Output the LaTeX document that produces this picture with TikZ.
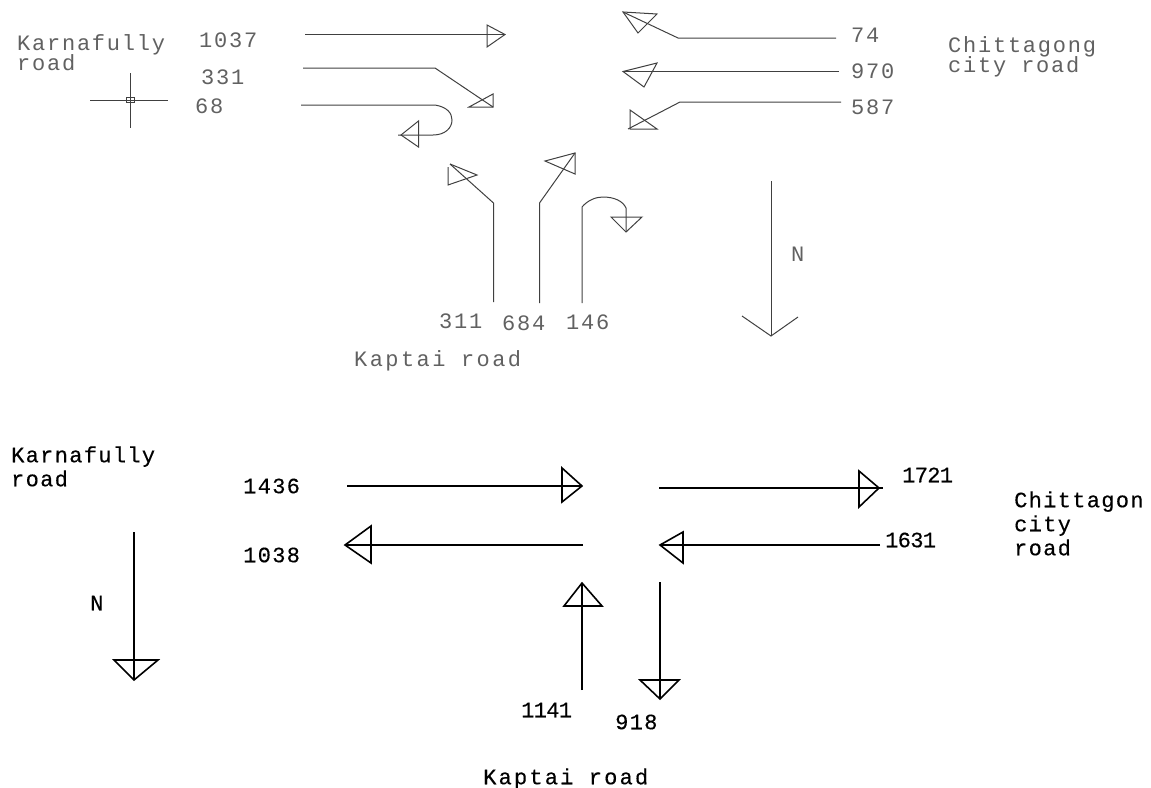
\documentclass[tikz,border=0pt]{standalone}
\usepackage{fontspec}
\newfontfamily\cadfont[LetterSpace=8]{Liberation Mono}
\newfontfamily\cadwide[LetterSpace=11]{Liberation Mono}
\newfontfamily\cadbold[LetterSpace=6,FakeBold=0.3]{Liberation Mono}
\newfontfamily\cadboldwide[LetterSpace=10,FakeBold=0.3]{Liberation Mono}
\newfontfamily\cadtight[LetterSpace=-3,FakeBold=0.3]{Liberation Mono}
\tikzset{
  thinlabel/.style={anchor=west,inner sep=0pt,text height=14.5pt,text depth=0pt,text=black!62,font=\cadfont\fontsize{22}{22}\selectfont},
  darklabel/.style={anchor=west,inner sep=0pt,text height=14.5pt,text depth=0pt,text=black,font=\cadbold\fontsize{22}{22}\selectfont},
  tightlabel/.style={anchor=west,inner sep=0pt,text height=14.5pt,text depth=0pt,text=black,font=\cadtight\fontsize{22}{22}\selectfont},
  thinline/.style={draw=black!75,line width=1pt},
  thickline/.style={draw=black,line width=1.6pt},
}
\begin{document}
\begin{tikzpicture}[x=1pt,y=-1pt]
\useasboundingbox (0,0) rectangle (1151,787);
% ---- upper labels
\node[thinlabel] (tKarn) at (17,43) {Karnafully};
\node[thinlabel] (tKarnb) at (17,63) {road};
\node[thinlabel] (n1037) at (199,40) {1037};
\node[thinlabel] (n331) at (201,77) {331};
\node[thinlabel] (n68) at (195,106) {68};
\node[thinlabel] (n74) at (851,35) {74};
\node[thinlabel] (n970) at (851,71) {970};
\node[thinlabel] (n587) at (851,107) {587};
\node[thinlabel] (tChit) at (948,45) {Chittagong};
\node[thinlabel] (tChitb) at (948,65) {city road};
\node[thinlabel] (n311) at (439,321) {311};
\node[thinlabel] (n684) at (502,323) {684};
\node[thinlabel] (n146) at (566,322) {146};
\node[thinlabel,font=\cadwide\fontsize{22}{22}\selectfont] (tKap) at (354,359) {Kaptai road};
\node[thinlabel] (tN) at (791,254) {N};
% ---- crosshair
\coordinate (cw) at (90,100); \coordinate (ce) at (168,100);
\coordinate (cn) at (130,73); \coordinate (cs) at (130,128);
\draw[thinline] (cw) -- (ce);
\draw[thinline] (cn) -- (cs);
\draw[thinline] (126,97.5) rectangle (134,102.5);
% ---- upper arrows
\coordinate (a1s) at (305,34.5); \coordinate (a1t) at (505,34.5);
\draw[thinline] (a1s) -- (a1t);
\draw[thinline] (487,25) -- (a1t) -- (487,47) -- cycle;

\coordinate (a2s) at (303,68); \coordinate (a2m) at (435,68); \coordinate (a2t) at (493,107);
\draw[thinline] (a2s) -- (a2m) -- (a2t);
\draw[thinline] (493,94) -- (a2t) -- (469,107) -- cycle;

\coordinate (a3s) at (301,105); \coordinate (a3m) at (435,105); \coordinate (a3t) at (398,135);
\draw[thinline] (a3s) -- (a3m) .. controls (447,107) and (452,113) .. (452,120) .. controls (452,128) and (445,135) .. (433,135) -- (a3t);
\draw[thinline] (418.5,121) -- (401,135) -- (418.5,147) -- cycle;

\coordinate (a4s) at (836,38); \coordinate (a4m) at (678,38); \coordinate (a4t) at (623,12);
\draw[thinline] (a4s) -- (a4m) -- (a4t);
\draw[thinline] (a4t) -- (657,14) -- (638,33) -- cycle;

\coordinate (a5s) at (839,71.5); \coordinate (a5t) at (623,71.5);
\draw[thinline] (a5s) -- (a5t);
\draw[thinline] (a5t) -- (657,63) -- (644,87) -- cycle;

\coordinate (a6s) at (841,102); \coordinate (a6m) at (680,102); \coordinate (a6t) at (628,129);
\draw[thinline] (a6s) -- (a6m) -- (a6t);
\draw[thinline] (630,110) -- (630,129) -- (657,129) -- cycle;

\coordinate (a7s) at (493.5,302); \coordinate (a7m) at (493.5,203); \coordinate (a7t) at (450,164);
\draw[thinline] (a7s) -- (a7m) -- (a7t);
\draw[thinline] (a7t) -- (477,175) -- (448,185) -- (448,167);

\coordinate (a8s) at (539.5,303); \coordinate (a8m) at (539.5,203); \coordinate (a8t) at (575,153);
\draw[thinline] (a8s) -- (a8m) -- (a8t);
\draw[thinline] (a8t) -- (545,161) -- (575,174) -- cycle;

\coordinate (a9s) at (582,303); \coordinate (a9m) at (582,207); \coordinate (a9t) at (626,232);
\draw[thinline] (a9s) -- (a9m) .. controls (588,200) and (596,197) .. (603,197) .. controls (614,197) and (623,201) .. (626,208) -- (a9t);
\draw[thinline] (611,217) -- (642,217) -- (a9t) -- cycle;

\coordinate (nas) at (771,181); \coordinate (nat) at (771,336);
\coordinate (nal) at (742,316); \coordinate (nar) at (798,317);
\draw[thinline] (nas) -- (nat);
\draw[thinline] (nal) -- (nat) -- (nar);

% ---- lower labels
\node[darklabel] (bKarn) at (11,455) {Karnafully};
\node[darklabel] (bKarnb) at (11,479) {road};
\node[darklabel] (n1436) at (243,486) {1436};
\node[darklabel] (n1038) at (243,555) {1038};
\node[tightlabel] (n1721) at (902,475) {1721};
\node[tightlabel] (n1631) at (885,540) {1631};
\node[tightlabel] (n1141) at (521,710) {1141};
\node[darklabel] (n918) at (615,722) {918};
\node[darklabel] (bN) at (90,603) {N};
\node[darklabel] (bChit) at (1014,500) {Chittagon};
\node[darklabel] (bChitb) at (1014,524) {city};
\node[darklabel] (bChitc) at (1014,548) {road};
\node[darklabel,font=\cadboldwide\fontsize{22}{22}\selectfont] (bKap) at (483,777) {Kaptai road};
% ---- lower arrows
\coordinate (b1s) at (347,486); \coordinate (b1t) at (582,486);
\draw[thickline] (b1s) -- (b1t);
\draw[thickline] (562,468) -- (b1t) -- (562,502) -- cycle;

\coordinate (b2s) at (659,488); \coordinate (b2t) at (883,488);
\draw[thickline] (b2s) -- (b2t);
\draw[thickline] (859,471) -- (879,488) -- (859,507) -- cycle;

\coordinate (b3s) at (880,545); \coordinate (b3t) at (660,545);
\draw[thickline] (b3s) -- (b3t);
\draw[thickline] (683,532) -- (b3t) -- (683,563) -- cycle;

\coordinate (b4s) at (583,545); \coordinate (b4t) at (345,545);
\draw[thickline] (b4s) -- (b4t);
\draw[thickline] (371,526) -- (b4t) -- (371,563) -- cycle;

\coordinate (b5s) at (582,690); \coordinate (b5t) at (582,583);
\draw[thickline] (b5s) -- (b5t);
\draw[thickline] (564,606) -- (b5t) -- (602,606) -- cycle;

\coordinate (b6s) at (660,582); \coordinate (b6t) at (660,699);
\draw[thickline] (b6s) -- (b6t);
\draw[thickline] (640,680) -- (b6t) -- (679,680) -- cycle;

\coordinate (b7s) at (134,532); \coordinate (b7t) at (134,680);
\draw[thickline] (b7s) -- (b7t);
\draw[thickline] (114,660) -- (b7t) -- (158,660) -- cycle;
\end{tikzpicture}
\end{document}
